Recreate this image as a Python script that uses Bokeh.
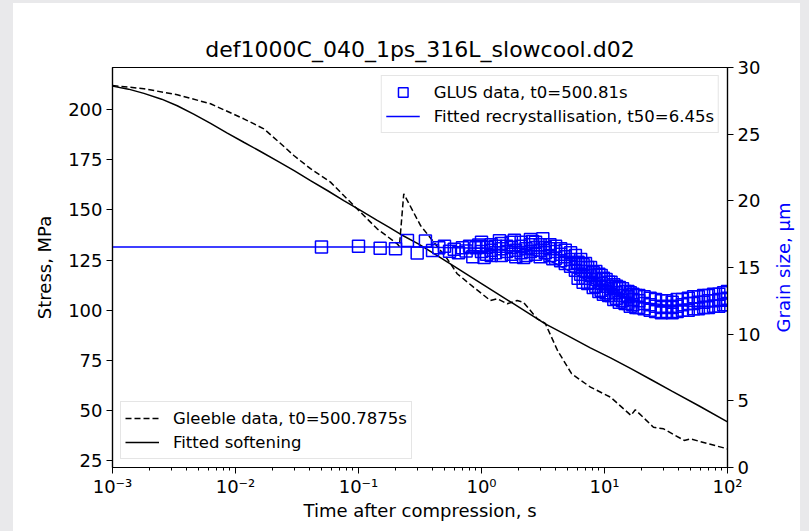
import math
from bokeh.plotting import figure
from bokeh.models import (Range1d, LinearAxis, FixedTicker, Legend, LegendItem,
                          CustomJSTickFormatter, Label)
from bokeh.layouts import row, column
from bokeh.embed import file_html
from bokeh.resources import INLINE

TITLE = "def1000C_040_1ps_316L_slowcool.d02"
X_LABEL = "Time after compression, s"
Y_LABEL = "Stress, MPa"
Y2_LABEL = "Grain size, μm"
STRESS_TICKS = [25, 50, 75, 100, 125, 150, 175, 200]
GRAIN_TICKS = [0, 5, 10, 15, 20, 25, 30]
TIME_TICKS = [1e-3, 1e-2, 1e-1, 1e0, 1e1, 1e2]

# Gleeble data (dashed)
gleeble_t = [0.001, 0.0018, 0.00336, 0.00627, 0.01167, 0.017, 0.0218, 0.0298, 0.0407,
             0.0592, 0.0759, 0.1038, 0.1419, 0.2065, 0.215, 0.2333, 0.319, 0.526, 0.634,
             0.861, 1.183, 1.343, 1.618, 1.95, 2.19, 2.84, 3.3, 4.15, 5.4, 7.69, 11.2,
             16.4, 17.8, 25.0, 30.2, 44.5, 50.0, 70.2, 100.0]
gleeble_s = [212.1, 210.5, 207.5, 203.0, 195.5, 190.5, 184.7, 177.2, 170.6,
             163.9, 157.2, 148.9, 140.6, 133.1, 131.8, 158.1, 142.3, 125.6, 118.2,
             111.5, 104.8, 105.7, 103.2, 104.8, 104.0, 95.7, 93.4, 79.9, 68.3, 61.6, 56.6,
             47.5, 50.3, 41.6, 40.8, 35.0, 35.8, 33.3, 30.8]

# Fitted softening (solid)
soft_t = [0.001, 0.00135, 0.0018, 0.00251, 0.00336, 0.00457, 0.00627, 0.00851, 0.01167,
          0.01585, 0.0218, 0.0302, 0.0407, 0.0562, 0.0759, 0.1047, 0.1419, 0.1778, 0.219,
          0.309, 0.562, 1.0, 1.778, 3.3, 5.01, 7.67, 11.2, 16.4, 24.0, 35.3, 58.9, 100.0]
soft_s = [211.8, 210.3, 208.2, 205.3, 202.0, 197.8, 193.2, 188.5, 183.8,
          179.3, 174.5, 169.5, 164.7, 159.6, 154.7, 149.7, 144.8, 141.3, 137.9,
          133.0, 123.0, 113.3, 103.6, 93.2, 87.3, 81.2, 76.2, 70.8, 65.3, 59.6, 52.2, 44.3]

# Fitted recrystallisation (blue line, grain size)
rex_t = [0.001, 0.3, 1.0, 2.0, 3.0, 4.0, 5.0, 6.45, 8.0, 10.0, 15.0, 20.0, 30.0, 50.0, 100.0]
rex_g = [16.53, 16.53, 16.45, 16.2, 15.8, 15.3, 14.8, 14.3, 13.8, 13.3, 12.7, 12.4, 12.2, 12.1, 12.1]

# GLUS data (blue squares, grain size)
glus_t = [0.05, 0.1, 0.15, 0.2, 0.25, 0.3, 0.35, 0.4, 0.45, 0.5, 0.55, 0.6, 0.65, 0.7, 0.75,
          0.8, 0.85, 0.9, 0.95,
          1.0, 1.0, 1.0, 1.1, 1.1, 1.2, 1.2, 1.2, 1.3, 1.3, 1.45, 1.45, 1.45, 1.6, 1.6,
          1.75, 1.75, 1.75, 1.9, 1.9, 2.1, 2.1, 2.1, 2.3, 2.3, 2.5, 2.5, 2.5,
          2.75, 2.75, 2.75, 3.0, 3.0, 3.0, 3.3, 3.3, 3.6, 3.6, 3.6, 4.0, 4.0, 4.0,
          4.4, 4.4, 4.4, 4.8, 4.8, 4.8, 5.3, 5.3, 5.3, 5.8, 5.8, 5.8, 6.4, 6.4, 6.4,
          7.0, 7.0, 7.0, 7.7, 7.7, 7.7, 8.5, 8.5, 8.5, 9.4, 9.4, 9.4, 10.3, 10.3, 10.3,
          11.3, 11.3, 11.3, 12.5, 12.5, 12.5, 14.0, 14.0, 14.0, 15.5, 15.5, 15.5,
          17.0, 17.0, 17.0, 19.0, 19.0, 19.0, 21.0, 21.0, 21.0, 23.5, 23.5, 23.5,
          26.0, 26.0, 26.0, 29.0, 29.0, 29.0, 32.0, 32.0, 32.0, 35.5, 35.5, 35.5,
          39.0, 39.0, 39.0, 43.0, 43.0, 43.0, 48.0, 48.0, 48.0, 53.0, 53.0, 53.0,
          58.0, 58.0, 58.0, 64.0, 64.0, 64.0, 70.0, 70.0, 70.0, 77.0, 77.0, 77.0,
          85.0, 85.0, 85.0, 93.0, 93.0, 93.0, 100.0, 100.0, 100.0,
          6.1, 6.1, 6.7, 6.7, 7.3, 7.3, 8.1, 8.1, 9.0, 9.0, 9.8, 9.8, 10.8, 10.8,
          11.9, 11.9, 13.2, 13.2, 14.7, 14.7, 16.2, 16.2, 18.0, 18.0,
          1.05, 1.4, 1.85, 2.2, 2.6, 3.15, 3.8]
glus_g = [16.53, 16.60, 16.45, 16.40, 17.03, 16.08, 16.98, 16.28, 16.48, 16.60, 16.21, 16.36,
          16.11, 16.48, 16.23, 16.60, 15.80, 16.48, 16.68,
          16.2, 16.6, 16.9, 16.0, 16.5, 16.3, 16.7, 15.9, 16.1, 16.6, 16.4, 15.9, 16.8,
          16.2, 16.6, 16.0, 16.5, 16.9, 16.3, 15.8, 16.1, 16.6, 16.9, 16.4, 15.9,
          16.2, 16.7, 17.1, 16.0, 16.5, 16.9, 16.3, 15.8, 16.7, 16.1, 16.5,
          15.9, 16.4, 16.7, 15.7, 16.2, 16.6, 15.5, 16.0, 16.4, 15.3, 15.8, 16.3,
          15.1, 15.6, 16.1, 14.8, 15.3, 15.9, 14.5, 15.0, 15.6, 14.2, 14.7, 15.3,
          13.9, 14.4, 15.0, 13.6, 14.1, 14.7, 13.3, 13.8, 14.4, 13.1, 13.6, 14.1,
          12.9, 13.4, 13.9, 12.7, 13.1, 13.6, 12.5, 12.9, 13.4, 12.3, 12.8, 13.2,
          12.2, 12.6, 13.0, 12.0, 12.5, 12.9, 11.9, 12.3, 12.8, 11.8, 12.2, 12.7,
          11.7, 12.1, 12.6, 11.6, 12.0, 12.5, 11.7, 12.1, 12.5, 11.6, 12.0, 12.4,
          11.7, 12.1, 12.6, 11.8, 12.2, 12.6, 11.8, 12.3, 12.7, 11.9, 12.3, 12.8,
          11.9, 12.4, 12.8, 12.0, 12.4, 12.9, 12.0, 12.5, 12.9, 12.1, 12.5, 13.0,
          12.1, 12.6, 13.0, 12.2, 12.6, 13.1, 12.2, 12.7, 13.2,
          14.2, 15.4, 13.9, 15.2, 13.8, 15.0, 13.5, 14.6, 13.2, 14.5, 13.0, 14.2, 12.9, 13.9,
          12.6, 13.7, 12.4, 13.5, 12.3, 13.2, 12.1, 13.1, 12.0, 12.9,
          15.75, 17.0, 17.05, 15.75, 16.95, 17.15, 15.65]

FONT = "DejaVu Sans"
BLUE = "#0000ff"

p = figure(width=758, height=528, x_axis_type="log",
           x_range=Range1d(1e-3, 1e2), y_range=Range1d(21.5, 221.1),
           output_backend="svg", toolbar_location=None,
           min_border_left=99, min_border_right=44, min_border_top=64, min_border_bottom=64,
           title=TITLE)
p.background_fill_color = "white"
p.border_fill_color = "white"
p.outline_line_color = "black"
p.outline_line_width = 1.2
p.xgrid.visible = False
p.ygrid.visible = False

p.title.text_font = FONT
p.title.text_font_size = "22px"
p.title.text_font_style = "normal"
p.title.align = "center"
p.title.text_color = "black"
p.title.standoff = 12

p.extra_y_ranges = {"grain": Range1d(0, 30)}

def style_axis(ax):
    ax.axis_line_color = "black"
    ax.axis_line_width = 1.2
    ax.major_tick_line_color = "black"
    ax.major_tick_out = 6
    ax.major_tick_in = 0
    ax.minor_tick_out = 3
    ax.minor_tick_in = 0
    ax.major_label_text_font = FONT
    ax.major_label_text_font_size = "18px"
    ax.major_label_text_color = "black"
    ax.axis_label_text_font = FONT
    ax.axis_label_text_font_size = "18px"
    ax.axis_label_text_font_style = "normal"
    ax.axis_label_text_color = "black"
    ax.major_label_standoff = 4

xa = p.xaxis[0]
minor = [m * 10.0 ** e for e in range(-3, 2) for m in range(2, 10)]
xa.ticker = FixedTicker(ticks=TIME_TICKS, minor_ticks=minor)
xa.formatter = CustomJSTickFormatter(code="""
const e = Math.round(Math.log10(tick));
const sup = {'-':'\u207b','0':'\u2070','1':'\u00b9','2':'\u00b2','3':'\u00b3','4':'\u2074','5':'\u2075','6':'\u2076','7':'\u2077','8':'\u2078','9':'\u2079'};
return '10' + String(e).split('').map(c => sup[c]).join('');
""")
xa.axis_label = X_LABEL
style_axis(xa)
xa.minor_tick_line_color = "black"
xa.major_label_standoff = 2
xa.axis_label_standoff = 0

ya = p.yaxis[0]
ya.ticker = FixedTicker(ticks=STRESS_TICKS)
ya.axis_label = Y_LABEL
style_axis(ya)
ya.minor_tick_line_color = None
ya.axis_label_standoff = 10

ra = LinearAxis(y_range_name="grain", ticker=FixedTicker(ticks=GRAIN_TICKS))
style_axis(ra)
ra.minor_tick_line_color = None
p.add_layout(ra, "right")

g_line = p.line(gleeble_t, gleeble_s, line_color="black", line_width=1.5, line_dash="6 3")
s_line = p.line(soft_t, soft_s, line_color="black", line_width=1.5)
r_line = p.line(rex_t, rex_g, line_color=BLUE, line_width=1.5, y_range_name="grain")
sq = p.scatter(glus_t, glus_g, marker="square", size=12, fill_color=None, line_color=BLUE,
               line_width=1.5, y_range_name="grain")

def make_legend(items, loc):
    lg = Legend(items=items, location=loc)
    lg.margin = 8
    lg.padding = 4
    lg.spacing = 0
    lg.glyph_width = 34
    lg.glyph_height = 24
    lg.label_height = 24
    lg.label_standoff = 14
    lg.label_text_font = FONT
    lg.label_text_font_size = "16.5px"
    lg.label_text_color = "black"
    lg.border_line_color = "#cccccc"
    lg.border_line_width = 1
    lg.background_fill_alpha = 0.8
    return lg

lg1 = make_legend([LegendItem(label="GLUS data, t0=500.81s", renderers=[sq]),
                   LegendItem(label="Fitted recrystallisation, t50=6.45s", renderers=[r_line])],
                  "top_right")
lg2 = make_legend([LegendItem(label="Gleeble data, t0=500.7875s", renderers=[g_line]),
                   LegendItem(label="Fitted softening", renderers=[s_line])],
                  "bottom_left")
p.add_layout(lg1)
p.add_layout(lg2)

# narrow strip to the right holding the secondary-axis title (reads bottom-to-top)
p2 = figure(width=29, height=528, x_range=Range1d(0, 1), y_range=Range1d(0, 1),
            output_backend="svg", toolbar_location=None, min_border=0,
            x_axis_location=None, y_axis_location=None)
p2.background_fill_color = "white"
p2.border_fill_color = "white"
p2.outline_line_color = None
p2.xgrid.visible = False
p2.ygrid.visible = False
p2.add_layout(Label(x=0.4, y=0.5, text=Y2_LABEL, angle=math.pi / 2,
                    text_align="center", text_baseline="middle", text_color=BLUE,
                    text_font=FONT, text_font_size="18px"))

inner = row(p, p2, styles={"background-color": "white"})
inner.margin = (3, 9, 0, 13)
layout = column(inner, styles={"background-color": "#e9e9eb"}, width=809, height=531)
open("out.html", "w").write(file_html(layout, INLINE))
